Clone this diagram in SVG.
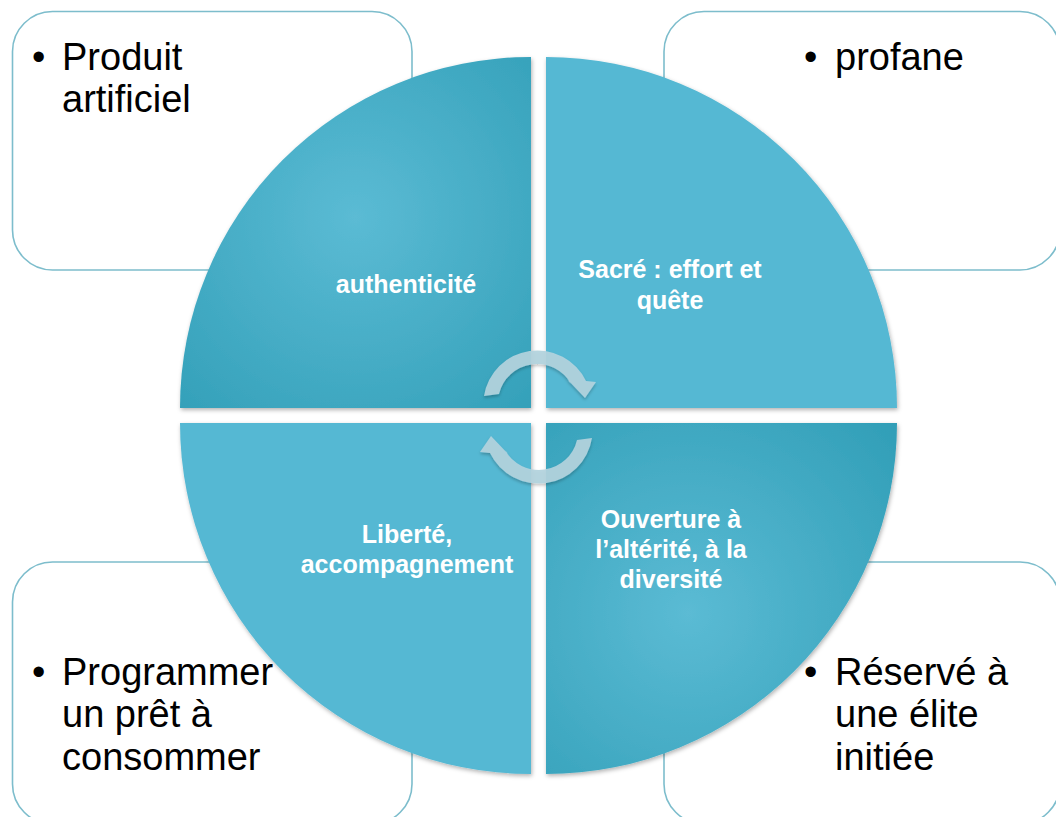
<svg xmlns="http://www.w3.org/2000/svg" width="1056" height="817" viewBox="0 0 1056 817">
<style>
.box{fill:#ffffff;stroke:#7DBDCC;stroke-width:1.6}
.bt{font-family:"Liberation Sans",Arial,sans-serif;font-size:38px;fill:#000000}
.lbl{font-family:"Liberation Sans",Arial,sans-serif;font-size:25px;font-weight:bold;fill:#ffffff;text-anchor:middle}
.flat{fill:#55B8D3}
.arr{fill:#B3D3DE;fill-opacity:0.93}
</style>
<defs>
<radialGradient id="gTL" gradientUnits="userSpaceOnUse" cx="355" cy="217" r="370">
<stop offset="0" stop-color="#5BBBD4"/>
<stop offset="1" stop-color="#2395AE"/>
</radialGradient>
<radialGradient id="gBR" gradientUnits="userSpaceOnUse" cx="688" cy="613" r="370">
<stop offset="0" stop-color="#5BBBD4"/>
<stop offset="1" stop-color="#2395AE"/>
</radialGradient>
<filter id="sh" x="-10%" y="-10%" width="120%" height="120%">
<feDropShadow dx="1" dy="2" stdDeviation="2" flood-color="#000000" flood-opacity="0.3"/>
</filter>
<filter id="ash" x="-20%" y="-20%" width="140%" height="140%">
<feDropShadow dx="0" dy="2" stdDeviation="1.5" flood-color="#000000" flood-opacity="0.25"/>
</filter>
</defs>
<rect width="1056" height="817" fill="#ffffff"/>

<g id="box-tl">
<rect class="box" x="12.5" y="11.5" width="399.5" height="258.5" rx="40"/>
<text class="bt" x="32" y="70">•</text>
<text class="bt" x="62" y="70">Produit</text>
<text class="bt" x="62" y="112">artificiel</text>
</g>
<g id="box-tr">
<rect class="box" x="664" y="11.5" width="396" height="258.5" rx="40"/>
<text class="bt" x="804" y="70">•</text>
<text class="bt" x="835" y="70">profane</text>
</g>
<g id="box-bl">
<rect class="box" x="12.5" y="562" width="399.5" height="262" rx="40"/>
<text class="bt" x="32" y="685">•</text>
<text class="bt" x="62" y="685">Programmer</text>
<text class="bt" x="62" y="727">un prêt à</text>
<text class="bt" x="62" y="770">consommer</text>
</g>
<g id="box-br">
<rect class="box" x="664" y="562" width="396" height="262" rx="40"/>
<text class="bt" x="804" y="685">•</text>
<text class="bt" x="835" y="685">Réservé à</text>
<text class="bt" x="835" y="727">une élite</text>
<text class="bt" x="835" y="770">initiée</text>
</g>

<g id="q-tl">
<path d="M531,408 L180,408 A351,351 0 0 1 531,57 Z" fill="url(#gTL)" filter="url(#sh)"/>
<text class="lbl" x="406" y="293">authenticité</text>
</g>
<g id="q-tr">
<path class="flat" d="M546,408 L546,57 A351,351 0 0 1 897,408 Z" filter="url(#sh)"/>
<text class="lbl" x="670" y="278">Sacré : effort et</text>
<text class="lbl" x="670" y="309">quête</text>
</g>
<g id="q-bl">
<path class="flat" d="M531,423 L531,774 A351,351 0 0 1 180,423 Z" filter="url(#sh)"/>
<text class="lbl" x="407" y="543">Liberté,</text>
<text class="lbl" x="407" y="573">accompagnement</text>
</g>
<g id="q-br">
<path d="M546,423 L897,423 A351,351 0 0 1 546,774 Z" fill="url(#gBR)" filter="url(#sh)"/>
<text class="lbl" x="671" y="528">Ouverture à</text>
<text class="lbl" x="671" y="558">l’altérité, à la</text>
<text class="lbl" x="671" y="588">diversité</text>
</g>

<g id="connectors" filter="url(#ash)">
<path class="arr" d="M484,396 A54,54 0 0 1 586,381 L596,382 L585,398 L567,379 L571,384 A39,39 0 0 0 499,394 Z"/>
<path class="arr" transform="rotate(180 538 417)" d="M484,396 A54,54 0 0 1 586,381 L596,382 L585,398 L567,379 L571,384 A39,39 0 0 0 499,394 Z"/>
</g>
</svg>
